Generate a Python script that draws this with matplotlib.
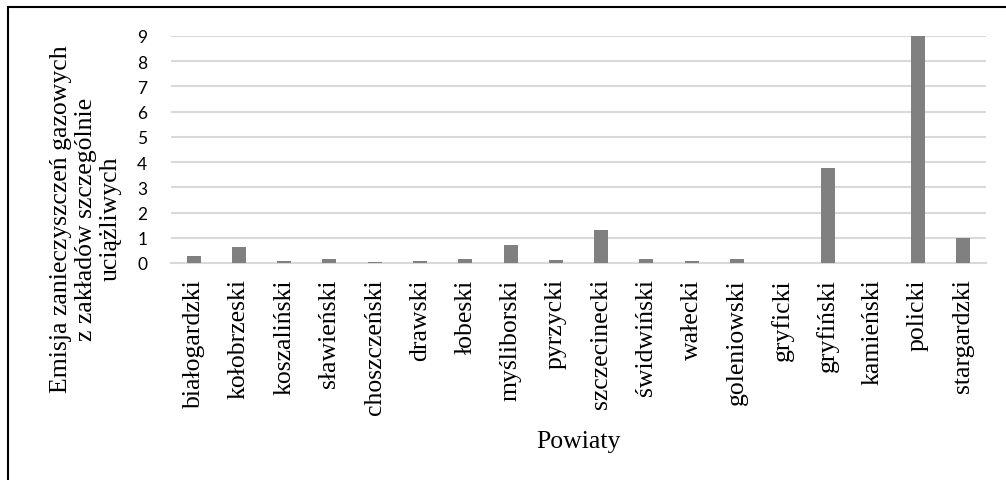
import matplotlib.pyplot as plt
from matplotlib.lines import Line2D
import numpy as np

powiaty = ['białogardzki', 'kołobrzeski', 'koszaliński', 'sławieński', 'choszczeński',
           'drawski', 'łobeski', 'myśliborski', 'pyrzycki', 'szczecinecki', 'świdwiński',
           'wałecki', 'goleniowski', 'gryficki', 'gryfiński', 'kamieński', 'policki',
           'stargardzki']
emisja = [0.26, 0.64, 0.09, 0.15, 0.05, 0.07, 0.17, 0.73, 0.11, 1.32, 0.15, 0.07,
          0.17, 0.0, 3.75, 0.0, 9.0, 1.0]
y_ticks = list(range(0, 10))

fig = plt.figure(figsize=(10.06, 4.81), dpi=100)
ax = fig.add_axes([171/1006, 1-264/481, (986-171)/1006, (264-37)/481])

x = np.arange(len(powiaty))
ax.bar(x, emisja, width=0.31, color='#808080', zorder=3)

ax.set_xlim(-0.5, len(powiaty)-0.5)
ax.set_ylim(0, 9)
ax.set_yticks(y_ticks)
ax.set_yticklabels([str(v) for v in y_ticks], fontfamily='Lato', fontsize=12.5)
ax.set_xticks(x)
ax.set_xticklabels(powiaty, rotation=90, fontfamily='Liberation Serif', fontsize=18.5)
ax.tick_params(axis='y', length=0, pad=17)
ax.tick_params(axis='x', length=0, pad=11)
ax.grid(axis='y', color='#d9d9d9', linewidth=1.5, zorder=0)
for s in ['top', 'right', 'left']:
    ax.spines[s].set_visible(False)
ax.spines['bottom'].set_color('#d9d9d9')
ax.spines['bottom'].set_linewidth(1.5)

fig.text(86/1006, 1-219/481,
         'Emisja zanieczyszczeń gazowych\nz zakładów szczególnie\nuciążliwych',
         rotation=90, ha='center', va='center', multialignment='center',
         fontfamily='Liberation Serif', fontsize=18.5, linespacing=1.15)
fig.text(578/1006, 1-442/481, 'Powiaty', ha='center', va='center',
         fontfamily='Liberation Serif', fontsize=18.5)

# ramka wykresu (przycięta z prawej i od dołu)
fig.add_artist(Line2D([7.5/1006, 7.5/1006], [0, 1-8/481], color='black', linewidth=1.5,
                      transform=fig.transFigure))
fig.add_artist(Line2D([7.5/1006, 1], [1-8/481, 1-8/481], color='black', linewidth=1.5,
                      transform=fig.transFigure))

fig.savefig('out.png', dpi=100)
